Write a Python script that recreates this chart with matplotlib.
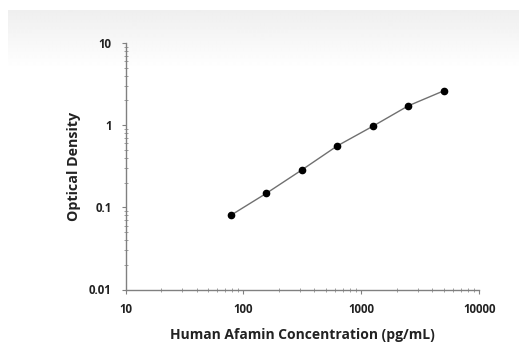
import matplotlib
matplotlib.use("Agg")
import matplotlib.pyplot as plt
import numpy as np

# standard curve data
concentration = [78.125, 156.25, 312.5, 625, 1250, 2500, 5000]
optical_density = [0.080, 0.148, 0.285, 0.56, 0.97, 1.72, 2.62]

x_ticks = [10, 100, 1000, 10000]
x_tick_labels = ["10", "100", "1000", "10000"]
y_ticks = [0.01, 0.1, 1, 10]
y_tick_labels = ["0.01", "0.1", "1", "10"]

plt.rcParams["font.family"] = ["Open Sans", "DejaVu Sans"]

fig = plt.figure(figsize=(5.22, 3.42), dpi=100)

# light grey gradient panel behind the chart
bg = fig.add_axes([8 / 522, 0, 511 / 522, 332 / 342], zorder=-1)
grad = np.ones((332, 2))
fade = np.linspace(0.935, 1.0, 60)
grad[:60, :] = fade[:, None]
bg.imshow(grad, cmap="gray", vmin=0, vmax=1, aspect="auto", interpolation="bilinear")
bg.axis("off")

ax = fig.add_axes([125.5 / 522, 52.5 / 342, 353.8 / 522, 246.5 / 342])
ax.patch.set_alpha(0)
ax.plot(concentration, optical_density, color="#707070", lw=1.0, zorder=2)
ax.plot(concentration, optical_density, "o", color="black", ms=4.5, zorder=3)

ax.set_xscale("log")
ax.set_yscale("log")
ax.set_xlim(10, 10000)
ax.set_ylim(0.01, 10)
ax.set_xticks(x_ticks)
ax.set_xticklabels(x_tick_labels)
ax.set_yticks(y_ticks)
ax.set_yticklabels(y_tick_labels)

for s in ["top", "right"]:
    ax.spines[s].set_visible(False)
for s in ["left", "bottom"]:
    ax.spines[s].set_color("#808080")
    ax.spines[s].set_linewidth(1.0)

ax.tick_params(which="major", length=3, width=0.8, color="#808080",
               labelsize=8.3, pad=7)
ax.tick_params(which="minor", direction="inout", length=2.5, width=0.6, color="#909090")
for lab in ax.get_xticklabels() + ax.get_yticklabels():
    lab.set_fontweight("bold")
    lab.set_color("#222222")

ax.set_xlabel("Human Afamin Concentration (pg/mL)", fontsize=10, fontweight="bold",
              color="#222222", labelpad=8)
ax.set_ylabel("Optical Density", fontsize=10.3, fontweight="bold", color="#222222", labelpad=6)

fig.savefig("out.png", dpi=100)
